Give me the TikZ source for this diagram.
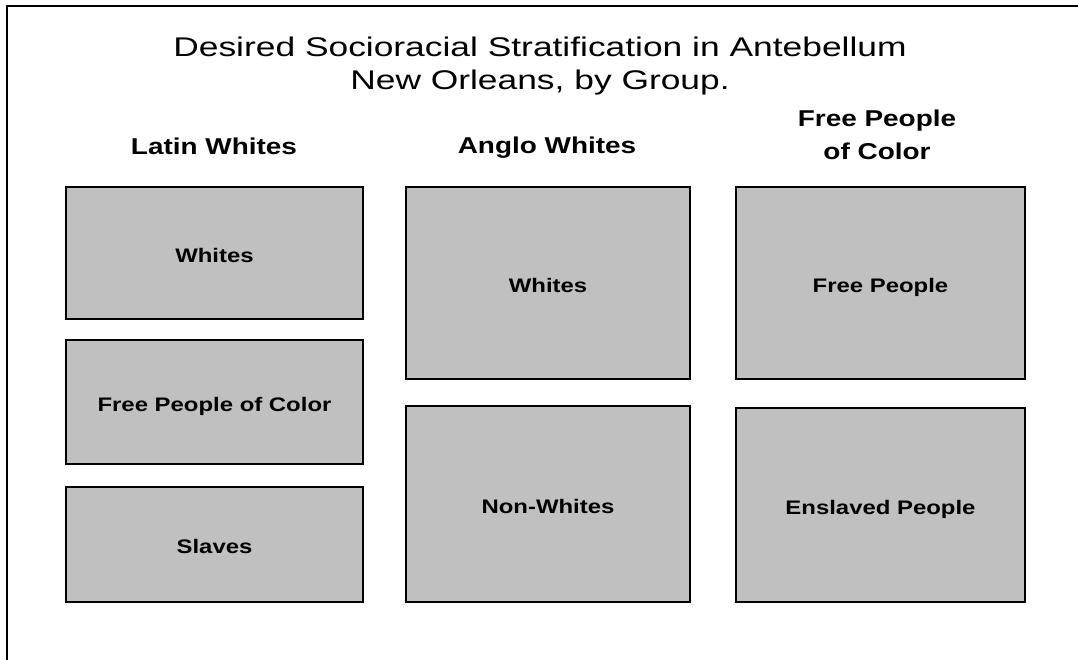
\documentclass[tikz,border=0pt]{standalone}
\usepackage{fontspec}
\setmainfont{Liberation Sans}
\newfontfamily\titlefont{Liberation Sans}[FakeStretch=1.31]
\newfontfamily\labelfont{Liberation Sans}[FakeStretch=1.22]
\definecolor{boxgray}{RGB}{192,192,192}
\begin{document}
\begin{tikzpicture}[x=1pt,y=-1pt,
  stratum/.style={rectangle, draw=black, line width=1.5pt, fill=boxgray, inner sep=0pt,
    text height=18pt, text depth=0pt,
    font=\labelfont\bfseries\fontsize{19.6}{22}\selectfont},
  group/.style={align=center, font=\labelfont\bfseries\fontsize{22.9}{33}\selectfont}]
\useasboundingbox (0,0) rectangle (1078,660);
\draw[line width=2pt] (7,660) -- (7,6) -- (1078,6);
% title
\node[align=center, font=\titlefont\fontsize{27}{33}\selectfont](title) at (540,66) {Desired Socioracial Stratification in Antebellum\\New Orleans, by Group.};
% Latin Whites
\node[group](latin) at (214,146) {Latin Whites};
\node[stratum, minimum width=297pt, minimum height=132pt](latin1) at (214.5,253) {Whites};
\node[stratum, minimum width=297pt, minimum height=124pt](latin2) at (214.5,402) {Free People of Color};
\node[stratum, minimum width=297pt, minimum height=115pt](latin3) at (214.5,544.5) {Slaves};
% Anglo Whites
\node[group](anglo) at (547,148) {Anglo Whites};
\node[stratum, minimum width=284pt, minimum height=192pt](anglo1) at (548,283) {Whites};
\node[stratum, minimum width=284pt, minimum height=196pt](anglo2) at (548,504) {Non-Whites};
% Free People of Color
\node[group](fpc) at (877,135) {Free People\\of Color};
\node[stratum, minimum width=289pt, minimum height=192pt](fpc1) at (880.5,283) {Free People};
\node[stratum, minimum width=289pt, minimum height=194pt](fpc2) at (880.5,505) {Enslaved People};
\end{tikzpicture}
\end{document}
